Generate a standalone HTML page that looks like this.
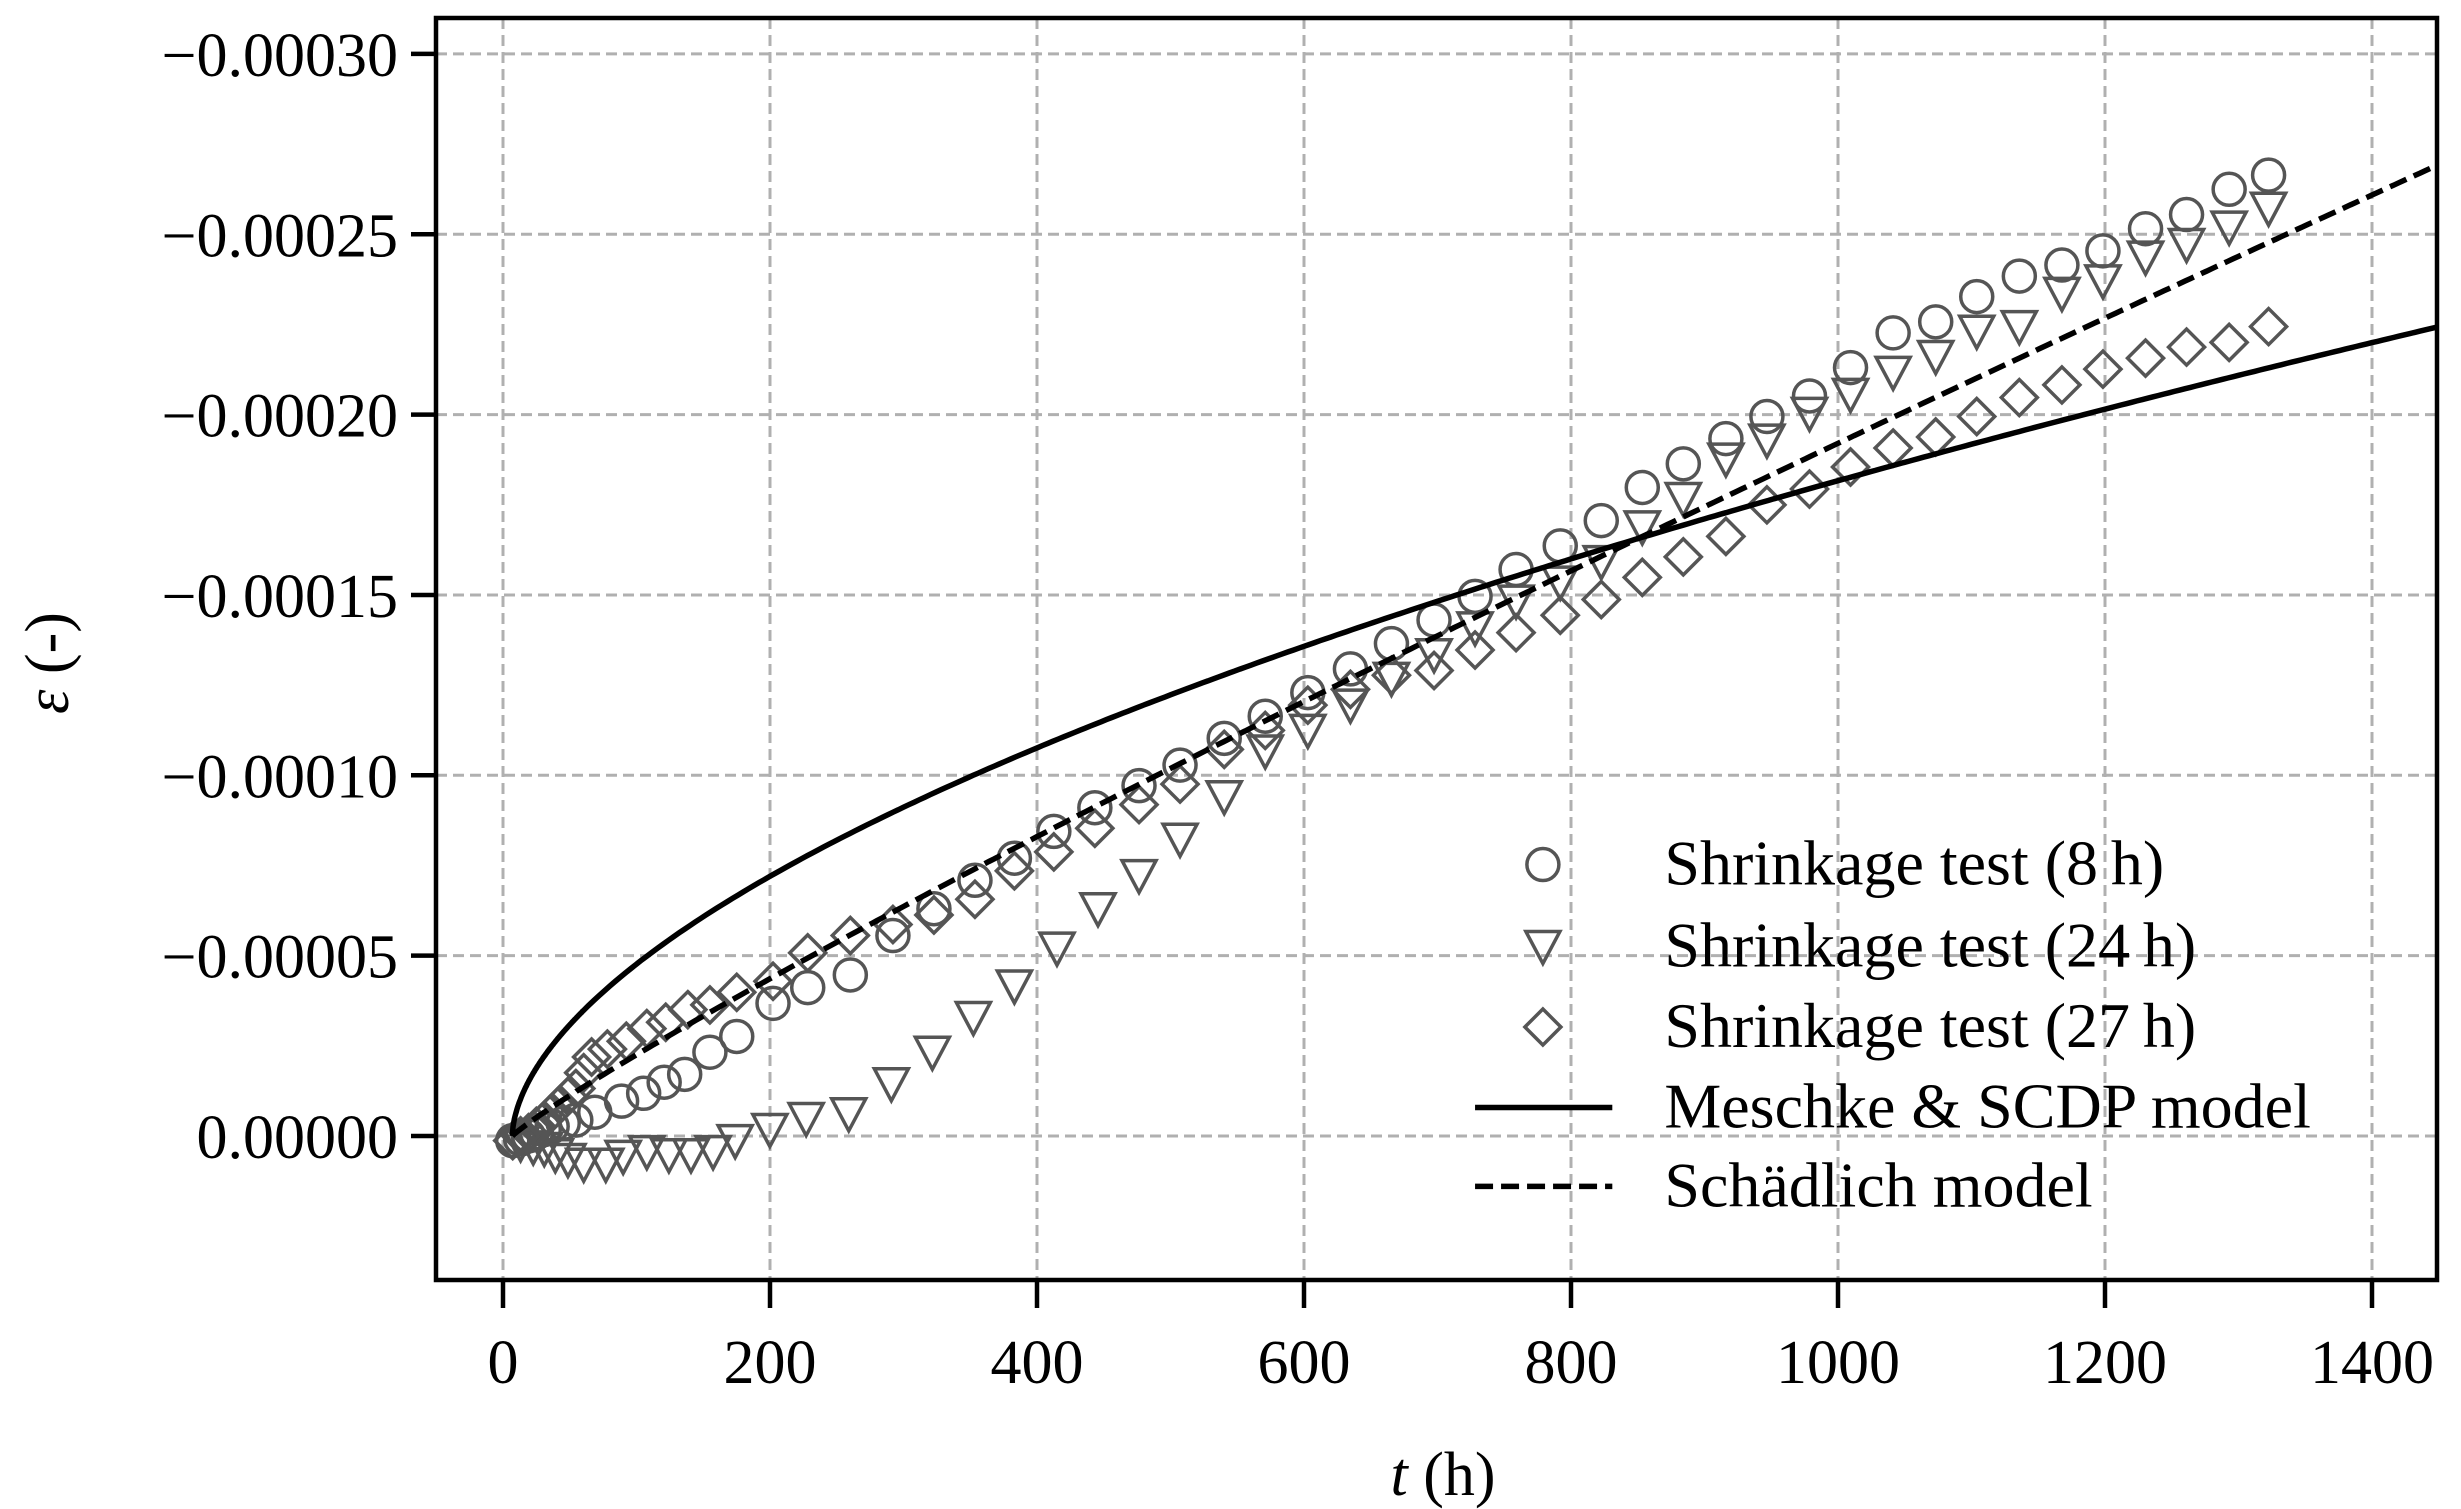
<!DOCTYPE html>
<html><head><meta charset="utf-8"><style>
html,body{margin:0;padding:0;background:#fff;}
svg{display:block;}
text{font-family:"Liberation Serif",serif;fill:#000;}
</style></head><body>
<svg id="s" width="2461" height="1509" viewBox="0 0 2461 1509" xmlns="http://www.w3.org/2000/svg"></svg>
<script>
const S=document.getElementById('s');
const L=436,R=2437,T=18,B=1280;
const X=t=>503+t*1.335, Y=e=>1136-e*36.07;
const k=1.5776;
let h='';
const xt=[0,200,400,600,800,1000,1200,1400];
const yt=[0,5,10,15,20,25,30];
h+='<g stroke="#b0b0b0" stroke-width="3" stroke-dasharray="11,6">';
xt.forEach(t=>h+=`<line x1="${X(t)}" y1="${T}" x2="${X(t)}" y2="${B}"/>`);
yt.forEach(e=>h+=`<line x1="${L}" y1="${Y(e)}" x2="${R}" y2="${Y(e)}"/>`);
h+='</g>';
h+='<clipPath id="c"><rect x="'+L+'" y="'+T+'" width="'+(R-L)+'" height="'+(B-T)+'"/></clipPath><g clip-path="url(#c)">';
const circ=[[325,723],[330,722],[335,720],[340,718],[345,716],[350,714],[357,712],[365,710],[377,705],[394,698],[408,693],[421,686],[434,681],[450,667],[467,657],[490,636],[512,626],[539,618],[566,593],[592,576],[618,558],[643,544],[668,527],[694,512],[722,498],[748,485],[776,468],[802,454],[829,439],[856,424],[882,408],[909,393],[935,378],[961,361],[989,346],[1015,330],[1041,309],[1067,294],[1094,278],[1120,264],[1147,251],[1173,233],[1200,211],[1227,204],[1253,188],[1280,175],[1307,168],[1333,159],[1360,145],[1386,136],[1413,120],[1438,111]];
const tri=[[330,725],[338,727],[345,728],[352,732],[360,735],[370,738],[384,738],[395,733],[410,730],[424,732],[438,732],[452,730],[466,723],[488,716],[511,709],[538,706],[565,687],[591,667],[617,645],[643,625],[670,601],[696,576],[722,555],[748,532],[776,505],[802,476],[829,463],[856,447],[882,430],[909,415],[935,398],[961,381],[989,369],[1015,356],[1041,334],[1067,316],[1094,291],[1120,279],[1147,262],[1173,250],[1200,236],[1227,226],[1253,210],[1280,207],[1307,186],[1333,178],[1360,163],[1386,155],[1413,144],[1438,132]];
const dia=[[325,723],[330,720],[335,718],[340,714],[345,710],[350,705],[355,700],[360,695],[365,690],[370,680],[375,670],[385,665],[397,660],[410,652],[422,648],[436,640],[450,637],[467,629],[490,622],[512,604],[539,593],[566,586],[592,580],[618,570],[643,552],[668,540],[694,525],[722,510],[748,497],[776,475],[802,463],[829,447],[856,437],[882,428],[909,425],[935,412],[961,401],[989,390],[1015,380],[1041,366],[1067,353],[1094,340],[1120,320],[1147,310],[1173,296],[1200,284],[1227,277],[1253,264],[1280,252],[1307,244],[1333,234],[1360,227],[1386,220],[1413,217],[1438,207]];
const st='fill="none" stroke="#555" stroke-width="3.5"';
const cM=(x,y)=>`<circle cx="${x}" cy="${y}" r="16" ${st}/>`;
const tM=(x,y)=>`<path d="M${x-17},${y-15}L${x+17},${y-15}L${x},${y+17}Z" ${st}/>`;
const dM=(x,y)=>`<path d="M${x},${y-18}L${x+18},${y}L${x},${y+18}L${x-18},${y}Z" ${st}/>`;
circ.forEach(p=>h+=cM(p[0]*k,p[1]*k));
tri.forEach(p=>h+=tM(p[0]*k,p[1]*k));
dia.forEach(p=>h+=dM(p[0]*k,p[1]*k));
let ps='',pd='';
for(let t=7;t<=1460;t+=(t<60?0.5:4)){
 const es=7.2*Math.pow((t-7)/193,0.565);
 const ed=8.3*Math.pow(Math.max(t-7,0)/393,0.905);
 ps+=(ps?'L':'M')+X(t).toFixed(1)+','+Y(es).toFixed(1);
 pd+=(pd?'L':'M')+X(t).toFixed(1)+','+Y(ed).toFixed(1);
}
h+=`<path d="${ps}" fill="none" stroke="#000" stroke-width="5.5"/>`;
h+=`<path d="${pd}" fill="none" stroke="#000" stroke-width="5.5" stroke-dasharray="18,8"/>`;
h+='</g>';
h+=`<rect x="${L}" y="${T}" width="${R-L}" height="${B-T}" fill="none" stroke="#000" stroke-width="4.5"/>`;
xt.forEach(t=>{h+=`<line x1="${X(t)}" y1="${B}" x2="${X(t)}" y2="${B+28}" stroke="#000" stroke-width="4.5"/>`;
 h+=`<text x="${X(t)}" y="${B+103}" font-size="62" text-anchor="middle">${t}</text>`;});
yt.forEach(e=>{h+=`<line x1="${L-25}" y1="${Y(e)}" x2="${L}" y2="${Y(e)}" stroke="#000" stroke-width="4.5"/>`;
 const lab=e==0?'0.00000':'\u22120.000'+String(e).padStart(2,'0');
 h+=`<text x="${L-38}" y="${Y(e)+22}" font-size="62" text-anchor="end">${lab}</text>`;});
h+=`<text x="1443" y="1495" font-size="62" text-anchor="middle"><tspan font-style="italic">t</tspan> (h)</text>`;
h+=`<text transform="translate(68,663) rotate(-90)" font-size="62" text-anchor="middle"><tspan font-style="italic">ε</tspan> (-)</text>`;
const ly=[548,600,651,702,752].map(v=>v*k);
h+=cM(978*k,ly[0]);h+=tM(978*k,ly[1]);h+=dM(978*k,ly[2]);
h+=`<line x1="${935*k}" y1="${ly[3]}" x2="${1022*k}" y2="${ly[3]}" stroke="#000" stroke-width="5.5"/>`;
h+=`<line x1="${935*k}" y1="${ly[4]}" x2="${1022*k}" y2="${ly[4]}" stroke="#000" stroke-width="5.5" stroke-dasharray="18,8"/>`;
const lt=['Shrinkage test (8\u2009h)','Shrinkage test (24\u2009h)','Shrinkage test (27\u2009h)','Meschke &amp; SCDP model','Schädlich model'];
lt.forEach((s,i)=>h+=`<text x="${1055*k}" y="${ly[i]+20}" font-size="64">${s}</text>`);
S.innerHTML=h;
</script>
</body></html>
